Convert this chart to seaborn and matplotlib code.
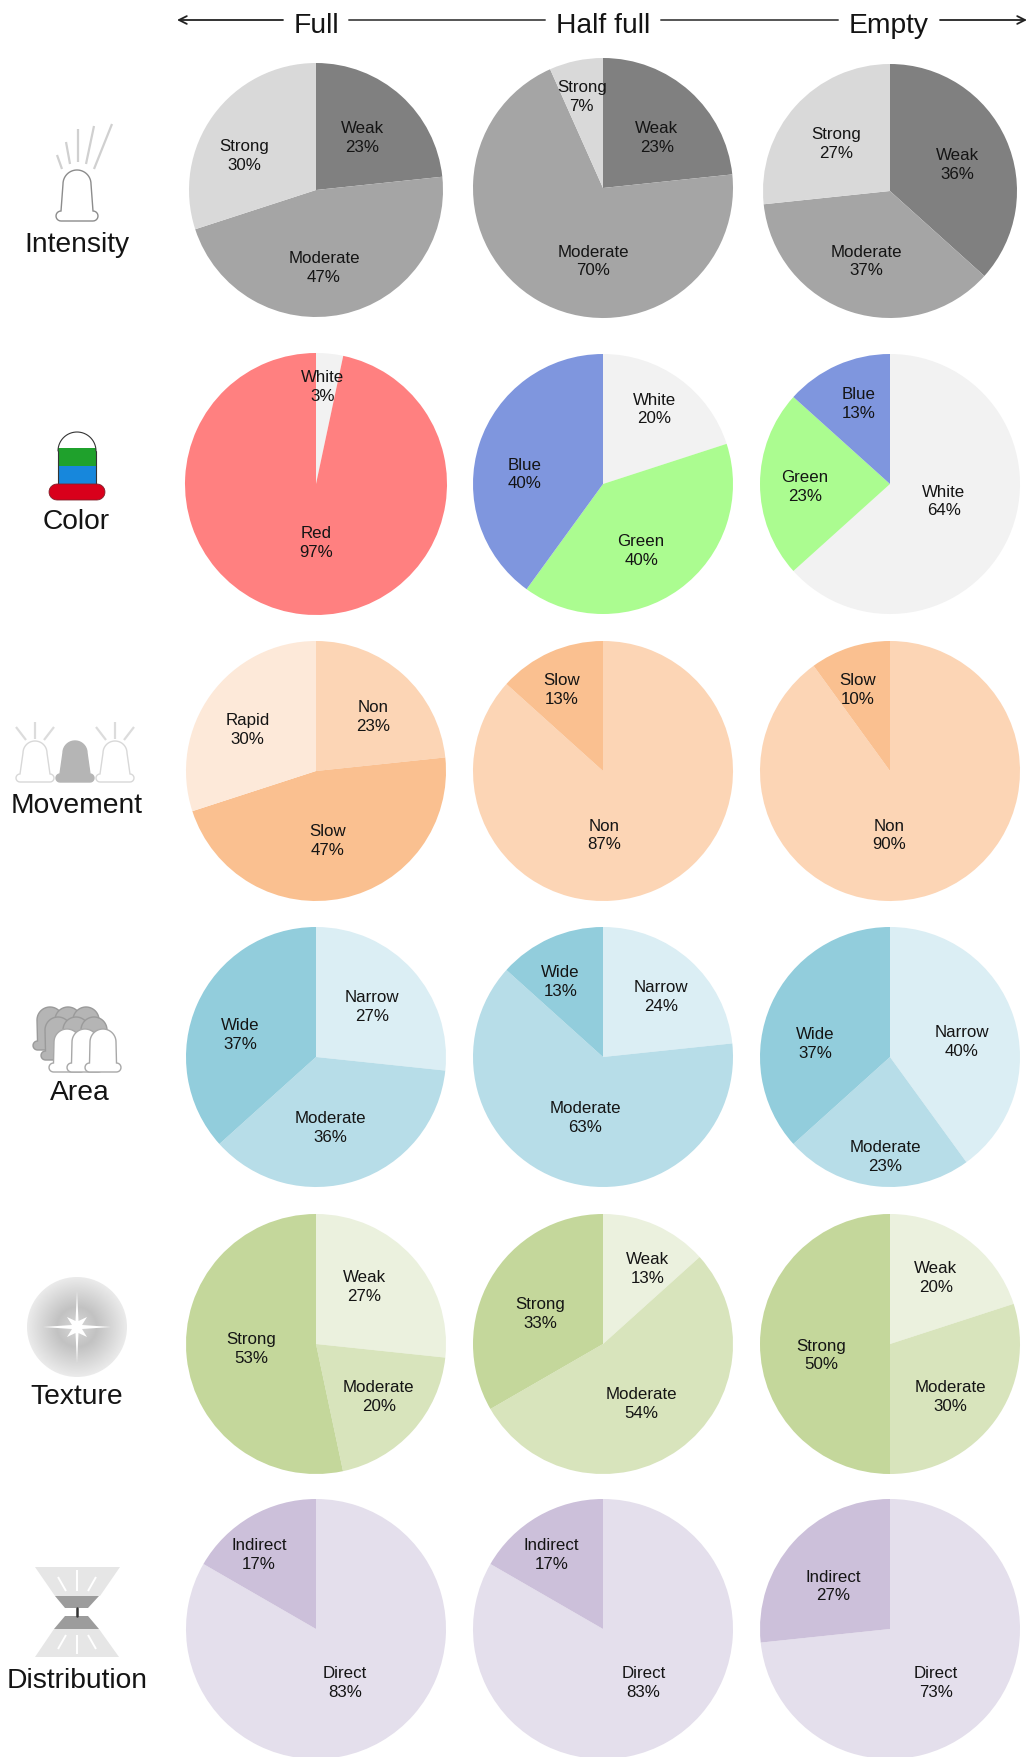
import numpy as np
import seaborn as sns
import matplotlib.pyplot as plt
from matplotlib.patches import Polygon, Circle

# slice sizes (they fall on thirtieths), per condition
intensity_labels = ["Weak", "Moderate", "Strong"]
intensity_full = [7, 14, 9]
intensity_half = [7, 21, 2]
intensity_empty = [11, 11, 8]

color_labels_full = ["White", "Red"]
color_labels = ["White", "Green", "Blue"]
color_full = [1, 29]
color_half = [6, 12, 12]
color_empty = [19, 7, 4]

movement_labels_full = ["Non", "Slow", "Rapid"]
movement_labels = ["Non", "Slow"]
movement_full = [7, 14, 9]
movement_half = [26, 4]
movement_empty = [27, 3]

area_labels = ["Narrow", "Moderate", "Wide"]
area_full = [8, 11, 11]
area_half = [7, 19, 4]
area_empty = [12, 7, 11]

texture_labels = ["Weak", "Moderate", "Strong"]
texture_full = [8, 6, 16]
texture_half = [4, 16, 10]
texture_empty = [6, 9, 15]

distribution_labels = ["Direct", "Indirect"]
distribution_full = [25, 5]
distribution_half = [25, 5]
distribution_empty = [22, 8]

# percentages as printed on the slices
intensity_pct = [[23, 47, 30], [23, 70, 7], [36, 37, 27]]
color_pct = [[3, 97], [20, 40, 40], [64, 23, 13]]
movement_pct = [[23, 47, 30], [87, 13], [90, 10]]
area_pct = [[27, 36, 37], [24, 63, 13], [40, 23, 37]]
texture_pct = [[27, 20, 53], [13, 54, 33], [20, 30, 50]]
distribution_pct = [[83, 17], [83, 17], [73, 27]]

row_names = ["Intensity", "Color", "Movement", "Area", "Texture", "Distribution"]
column_names = ["Full", "Half full", "Empty"]

# colours per slice name
grey_pal = sns.color_palette(["#808080", "#a5a5a5", "#d9d9d9"])
color_pal = {"White": "#f2f2f2", "Red": "#ff8080", "Green": "#abfc90", "Blue": "#7f96de"}
move_pal = {"Non": "#fcd5b5", "Slow": "#fac090", "Rapid": "#fde9d9"}
area_pal = sns.color_palette(["#dbeef4", "#b7dde8", "#92cddc"])
texture_pal = sns.color_palette(["#ebf1de", "#d8e4bc", "#c4d79b"])
dist_pal = sns.color_palette(["#e4dfec", "#ccc0da"])

# (labels, sizes, colours) grid
grid = [
    [(intensity_labels, intensity_full, grey_pal),
     (intensity_labels, intensity_half, grey_pal),
     (intensity_labels, intensity_empty, grey_pal)],
    [(color_labels_full, color_full, [color_pal[k] for k in color_labels_full]),
     (color_labels, color_half, [color_pal[k] for k in color_labels]),
     (color_labels, color_empty, [color_pal[k] for k in color_labels])],
    [(movement_labels_full, movement_full, [move_pal[k] for k in movement_labels_full]),
     (movement_labels, movement_half, [move_pal[k] for k in movement_labels]),
     (movement_labels, movement_empty, [move_pal[k] for k in movement_labels])],
    [(area_labels, area_full, area_pal),
     (area_labels, area_half, area_pal),
     (area_labels, area_empty, area_pal)],
    [(texture_labels, texture_full, texture_pal),
     (texture_labels, texture_half, texture_pal),
     (texture_labels, texture_empty, texture_pal)],
    [(distribution_labels, distribution_full, dist_pal),
     (distribution_labels, distribution_half, dist_pal),
     (distribution_labels, distribution_empty, dist_pal)],
]
printed = [intensity_pct, color_pct, movement_pct, area_pct, texture_pct, distribution_pct]

# layout, all in image pixels (y down)
pie_x = [316, 603, 890]
pie_y = [[191, 189, 192], [485, 485, 485], [772, 772, 772],
         [1058, 1058, 1058], [1345, 1345, 1345], [1630, 1630, 1630]]
pie_r = [[127, 130, 127], [131, 130, 130], [130, 130, 130],
         [130, 130, 130], [130, 130, 130], [130, 130, 130]]

S = 1029 / 918   # label spots were read at this scale
label_spots = [
    [[(323, 122), (289, 238), (218, 138)], [(586, 122), (529, 232), (519, 85)], [(854, 146), (773, 232), (746, 127)]],
    [[(288, 344), (282, 483)], [(584, 364), (572, 490), (468, 422)], [(842, 446), (718, 433), (766, 359)]],
    [[(333, 638), (292, 749), (221, 650)], [(539, 744), (501, 614)], [(793, 744), (765, 614)]],
    [[(332, 897), (295, 1005), (214, 922)], [(590, 888), (522, 996), (500, 875)], [(858, 928), (790, 1031), (727, 930)]],
    [[(325, 1147), (338, 1245), (224, 1202)], [(578, 1131), (572, 1251), (482, 1171)], [(835, 1139), (848, 1245), (733, 1208)]],
    [[(308, 1500), (231, 1386)], [(574, 1500), (492, 1386)], [(835, 1500), (743, 1414)]],
]
row_name_spots = [(77, 252), (76, 529), (77, 813), (80, 1100), (77, 1404), (77, 1688)]
ink = "#141414"


def bulb(ax, cx, top, hw=14, stem=41, base_hw=21, base_h=10, face="white", edge="#8c8c8c", lw=1.0, z=3):
    # dome, stem and a flat pill at the bottom
    t = np.linspace(np.pi, 2 * np.pi, 30)
    dome = np.c_[cx + hw * np.cos(t), top + hw + hw * np.sin(t)]
    b = top + stem
    t2 = np.linspace(-np.pi / 2, np.pi / 2, 12)
    right = np.c_[cx + base_hw - base_h / 2 + base_h / 2 * np.cos(t2), b + base_h / 2 + base_h / 2 * np.sin(t2)]
    left = np.c_[cx - base_hw + base_h / 2 - base_h / 2 * np.cos(t2[::-1]), b + base_h / 2 + base_h / 2 * np.sin(t2[::-1])]
    pts = np.vstack([dome, right, left])
    ax.add_patch(Polygon(pts, closed=True, fc=face, ec=edge, lw=lw, zorder=z))


def rays(ax, segs, col="#d0d0d0", lw=1.6):
    for (x0, y0, x1, y1) in segs:
        ax.plot([x0, x1], [y0, y1], color=col, lw=lw, solid_capstyle="butt", zorder=2)


def draw_icons(ax):
    # intensity
    bulb(ax, 77, 171)
    rays(ax, [(62, 170, 57, 156), (70, 165, 66, 143), (78, 163, 78, 130), (86, 165, 94, 127), (94, 170, 112, 125)])

    # color
    ax.add_patch(Polygon([(58, 449), (96, 449), (96, 467), (58, 467)], fc="#1fa12c", ec="none", zorder=3))
    ax.add_patch(Polygon([(58, 467), (96, 467), (96, 486), (58, 486)], fc="#1787dc", ec="none", zorder=3))
    t = np.linspace(np.pi, 2 * np.pi, 30)
    ax.plot(77 + 19 * np.cos(t), 452 + 19 * np.sin(t), color="#333333", lw=0.8, zorder=3)
    ax.plot([58, 58], [452, 486], color="#333333", lw=0.8, zorder=4)
    ax.plot([96, 96], [452, 486], color="#333333", lw=0.8, zorder=4)
    t = np.linspace(-np.pi / 2, np.pi / 2, 12)
    pill = np.vstack([np.c_[97 + 8 * np.cos(t), 493 + 8 * np.sin(t)],
                      np.c_[57 - 8 * np.cos(t[::-1]), 493 + 8 * np.sin(t[::-1])]])
    ax.add_patch(Polygon(pill, fc="#d9001b", ec="#80202a", lw=0.6, zorder=4))

    # movement
    for cx, fill in [(35, "white"), (75, "#b5b5b5"), (115, "white")]:
        bulb(ax, cx, 742, hw=12, stem=33, base_hw=19, base_h=8, face=fill,
             edge="#b5b5b5" if fill != "white" else "#d8d8d8")
    for cx in (35, 115):
        rays(ax, [(cx, 723, cx, 740), (cx - 19, 728, cx - 9, 741), (cx + 19, 728, cx + 9, 741)], col="#dcdcdc")

    # area, back rows grey and front row white
    for cx, top in [(50, 1008), (68, 1008), (86, 1008), (58, 1018), (76, 1018), (94, 1018)]:
        bulb(ax, cx, top, hw=13, stem=34, base_hw=17, base_h=9, face="#b5b5b5", edge="#9a9a9a")
    for cx in (67, 85, 103):
        bulb(ax, cx, 1030, hw=13, stem=34, base_hw=18, base_h=9, face="white", edge="#a8a8a8")

    # texture
    yy, xx = np.mgrid[-1:1:200j, -1:1:200j]
    rr = np.hypot(xx, yy)
    shade = np.interp(rr, [0, 0.12, 0.4, 1.0], [0.98, 0.82, 0.76, 0.92])
    im = ax.imshow(shade, extent=(27, 127, 1378, 1278), cmap="gray", vmin=0, vmax=1,
                   interpolation="bilinear", zorder=2, aspect="auto")
    im.set_clip_path(Circle((77, 1328), 50, transform=ax.transData))
    star = [(77, 1292), (78.5, 1322), (87, 1318), (82, 1326), (111, 1328), (82, 1330), (87, 1338),
            (78.5, 1334), (77, 1364), (75.5, 1334), (67, 1338), (72, 1330), (43, 1328), (72, 1326),
            (67, 1318), (75.5, 1322)]
    ax.add_patch(Polygon(star, fc="white", ec="none", zorder=3))

    # distribution
    ax.add_patch(Polygon([(35, 1568), (120, 1568), (100, 1597), (55, 1597)], fc="#e6e6e6", ec="none", zorder=2))
    ax.add_patch(Polygon([(54, 1630), (99, 1630), (119, 1658), (35, 1658)], fc="#e6e6e6", ec="none", zorder=2))
    ax.add_patch(Polygon([(55, 1597), (99, 1597), (88, 1609), (65, 1609)], fc="#9c9c9c", ec="none", zorder=3))
    ax.add_patch(Polygon([(65, 1617), (88, 1617), (99, 1630), (54, 1630)], fc="#9c9c9c", ec="none", zorder=3))
    ax.plot([77, 77], [1609, 1617], color="#333333", lw=1.8, zorder=3)
    rays(ax, [(77, 1571, 77, 1592), (58, 1578, 66, 1592), (96, 1578, 88, 1592),
              (77, 1636, 77, 1655), (66, 1636, 58, 1650), (88, 1636, 96, 1650)], col="white", lw=1.4)


sns.set_theme(style="white")
plt.rcParams["font.family"] = ["Liberation Sans", "DejaVu Sans"]

fig = plt.figure(figsize=(10.29, 17.58), dpi=100, facecolor="white")
ax = fig.add_axes([0, 0, 1, 1])

for r, row in enumerate(grid):
    for c, (labels, sizes, colors) in enumerate(row):
        # y axis runs downward, so counterclock here reads clockwise from the top
        ax.pie(sizes, colors=colors, startangle=-90, counterclock=True,
               center=(pie_x[c], pie_y[r][c]), radius=pie_r[r][c],
               wedgeprops={"linewidth": 0}, frame=True)
        for lab, pct, (lx, ly) in zip(labels, printed[r][c], label_spots[r][c]):
            ax.text(lx * S, ly * S + 1.5, f"{lab}\n{pct}%", ha="center", va="center",
                    fontsize=12.2, color=ink, linespacing=1.32, zorder=6)

for name, (x, y) in zip(row_names, row_name_spots):
    ax.text(x, y, name, ha="center", va="baseline", fontsize=20.3, color=ink, zorder=6)

# header row with its long arrow
header_x = [316, 603, 889]
for name, x in zip(column_names, header_x):
    ax.text(x, 33, name, ha="center", va="baseline", fontsize=20.3, color=ink, zorder=6)
arrow = {"arrowstyle": "->", "color": "#222222", "lw": 1.3, "mutation_scale": 14, "shrinkA": 0, "shrinkB": 0}
ax.annotate("", xy=(177, 21), xytext=(283, 21), arrowprops=arrow)
ax.annotate("", xy=(1027, 21), xytext=(940, 21), arrowprops=arrow)
ax.plot([349, 545], [21, 21], color="#555555", lw=1.4)
ax.plot([661, 838], [21, 21], color="#555555", lw=1.4)

draw_icons(ax)

ax.set_xlim(0, 1029)
ax.set_ylim(1758, 0)
ax.set_aspect("auto")
ax.set_xticks([])
ax.set_yticks([])
ax.set_frame_on(False)

fig.savefig("out.png", dpi=100, facecolor="white")
